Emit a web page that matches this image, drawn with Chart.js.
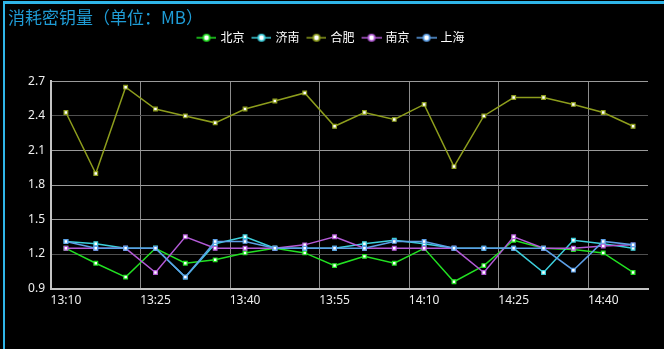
<!DOCTYPE html>
<html><head><meta charset="utf-8">
<script src="https://cdn.jsdelivr.net/npm/chart.js@4"></script>
<style>
html,body{margin:0;padding:0;background:#000;width:664px;height:349px;overflow:hidden}
#wrap{position:relative;width:664px;height:349px}
#frame{position:absolute;left:3px;top:1px;right:0;bottom:0;border-top:3px solid #2fb5e8;border-left:2px solid #2fb5e8;pointer-events:none}
canvas{position:absolute;left:0;top:0}
</style></head><body>
<div id="wrap"><canvas id="c" width="664" height="349" style="width:664px;height:349px"></canvas><div id="frame"></div></div>
<script>
const titleText = '消耗密钥量（单位：MB）';
const seriesNames = ['北京', '济南', '合肥', '南京', '上海'];
const times = ['13:10','13:15','13:20','13:25','13:30','13:35','13:40','13:45','13:50','13:55',
               '14:00','14:05','14:10','14:15','14:20','14:25','14:30','14:35','14:40','14:45'];
const beijing  = [1.25,1.12,1.00,1.25,1.12,1.15,1.21,1.25,1.21,1.10,1.18,1.12,1.25,0.96,1.10,1.32,1.25,1.24,1.21,1.04];
const jinan    = [1.31,1.29,1.25,1.25,1.00,1.29,1.35,1.25,1.25,1.25,1.29,1.32,1.29,1.25,1.25,1.25,1.04,1.32,1.29,1.25];
const hefei    = [2.43,1.90,2.65,2.46,2.40,2.34,2.46,2.53,2.60,2.31,2.43,2.37,2.50,1.96,2.40,2.56,2.56,2.50,2.43,2.31];
const nanjing  = [1.25,1.25,1.25,1.04,1.35,1.25,1.25,1.25,1.28,1.35,1.25,1.25,1.25,1.25,1.04,1.35,1.25,1.25,1.27,1.28];
const shanghai = [1.31,1.25,1.25,1.25,1.00,1.31,1.31,1.25,1.25,1.25,1.25,1.31,1.31,1.25,1.25,1.25,1.25,1.06,1.31,1.28];
const yMin = 0.9, yMax = 2.7, yStep = 0.3;

const colors = ['#22e022', '#3ccfdc', '#8d9d1c', '#b35ad6', '#5c9fe6'];
const seriesData = [beijing, jinan, hefei, nanjing, shanghai];

// legend icon: short line with a ringed dot; left part transparent to nudge it right
const ICON_SHIFT = 3.5;
function makeIcon(color) {
  const c = document.createElement('canvas');
  c.width = 20 + ICON_SHIFT * 2; c.height = 10;
  const g = c.getContext('2d');
  const ox = ICON_SHIFT * 2;
  g.strokeStyle = color; g.lineWidth = 1.5;
  g.beginPath(); g.moveTo(ox, 5); g.lineTo(ox + 20, 5); g.stroke();
  g.fillStyle = color;
  g.beginPath(); g.arc(ox + 10, 5, 4, 0, Math.PI * 2); g.fill();
  g.fillStyle = '#fff';
  g.beginPath(); g.arc(ox + 10, 5, 2.4, 0, Math.PI * 2); g.fill();
  return c;
}
const icons = colors.map(makeIcon);

const datasets = seriesNames.map((name, i) => ({
  label: name,
  data: seriesData[i],
  borderColor: colors[i],
  backgroundColor: colors[i],
  borderWidth: 1.5,
  tension: 0,
  pointStyle: 'rect',
  pointRadius: 2.6,
  pointBackgroundColor: '#ffffff',
  pointBorderColor: colors[i],
  pointBorderWidth: 1.2,
  order: seriesNames.length - i
}));

new Chart(document.getElementById('c'), {
  type: 'line',
  data: { labels: times, datasets },
  options: {
    responsive: false,
    animation: false,
    layout: { padding: { left: 8, right: 16, top: 0, bottom: 36 } },
    plugins: {
      tooltip: { enabled: false },
      title: {
        display: true, text: titleText, align: 'start',
        color: '#1f9cd6',
        font: { family: '"Noto Sans CJK SC", "Noto Sans", sans-serif', size: 17, weight: 'normal', lineHeight: 1.2 },
        padding: { top: 7, bottom: 2.3 }
      },
      subtitle: {
        display: true, text: ' ', weight: 500,
        font: { size: 10, lineHeight: 1 },
        padding: { top: 0, bottom: 17.7 }
      },
      legend: {
        display: true, position: 'top',
        labels: {
          usePointStyle: true,
          pointStyleWidth: 23,
          padding: 2,
          color: '#ffffff',
          font: { family: '"Noto Sans CJK SC", sans-serif', size: 12 },
          generateLabels(chart) {
            const items = Chart.defaults.plugins.legend.labels.generateLabels(chart);
            items.sort((a, b) => a.datasetIndex - b.datasetIndex);
            items.forEach(it => { it.pointStyle = icons[it.datasetIndex]; it.fontColor = '#ffffff'; });
            return items;
          }
        }
      }
    },
    scales: {
      x: {
        type: 'category',
        offset: true,
        grid: {
          offset: true,
          drawTicks: false,
          color: ctx => (ctx.index % 3 === 0 ? '#8c8c8c' : 'rgba(0,0,0,0)'),
          lineWidth: 1
        },
        border: { color: '#c4c4c4', width: 2 },
        ticks: {
          autoSkip: false, maxRotation: 0, padding: 5,
          color: '#eeeeee',
          font: { family: '"Noto Sans", sans-serif', size: 12 },
          callback(val, idx) { return idx % 3 === 0 ? this.getLabelForValue(val) : ''; }
        }
      },
      y: {
        min: yMin, max: yMax,
        afterFit(s) { s.width = 43; },
        grid: {
          drawTicks: false,
          color: ctx => {
            const v = ctx.tick ? Math.round(ctx.tick.value * 10) / 10 : 0;
            return (v === 2.4 || v === 1.2) ? '#505050' : '#9a9a9a';
          },
          lineWidth: 1
        },
        border: { color: '#c4c4c4', width: 2 },
        ticks: {
          stepSize: yStep, padding: 6,
          color: '#eeeeee',
          font: { family: '"Noto Sans", sans-serif', size: 12 },
          callback: v => Number(v).toFixed(1)
        }
      }
    }
  }
});
</script>
</body></html>
